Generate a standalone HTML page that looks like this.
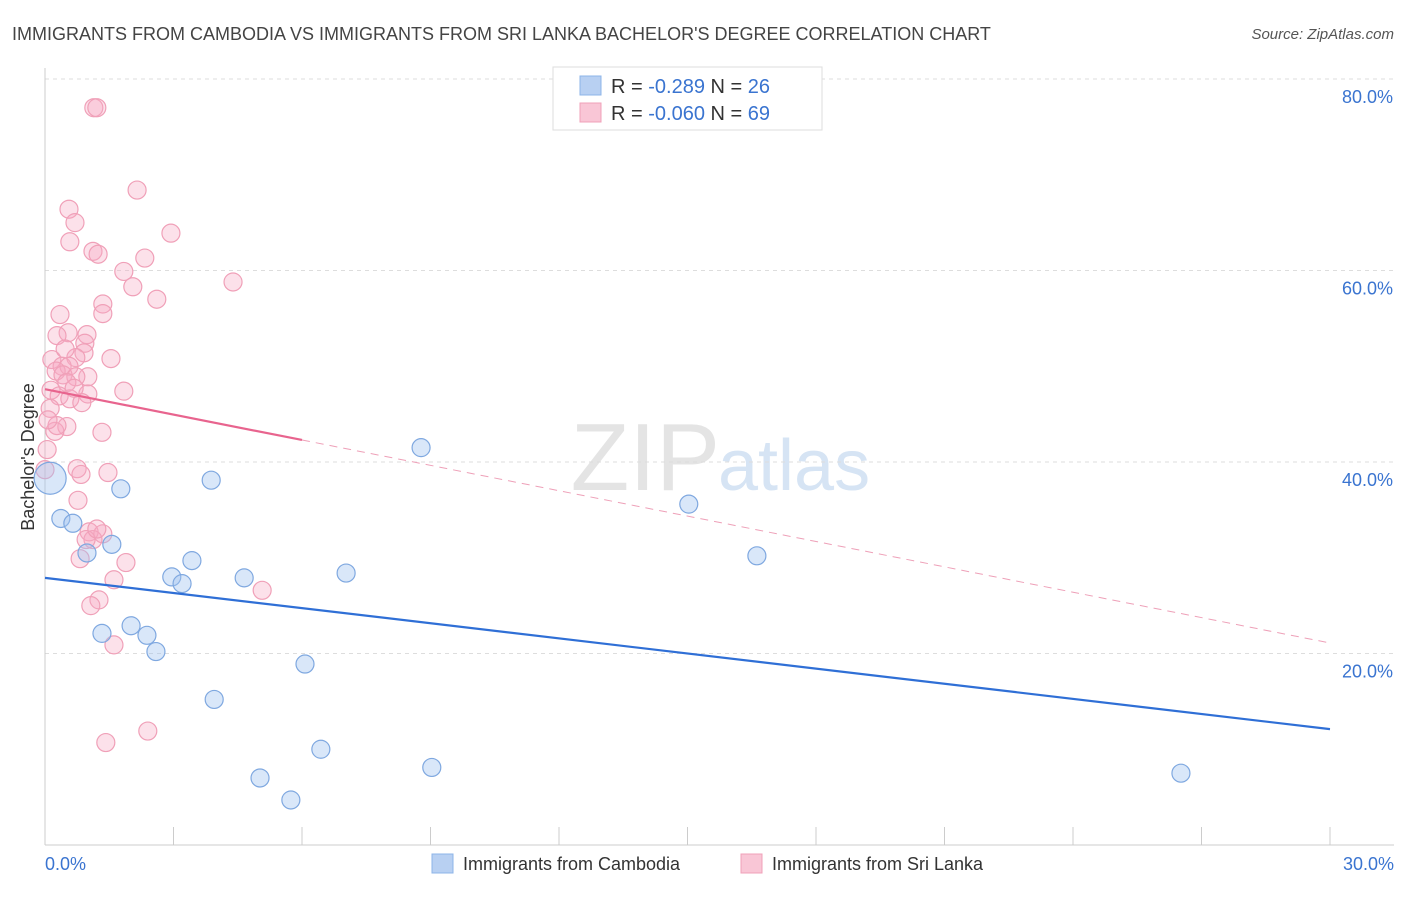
<!DOCTYPE html>
<html><head><meta charset="utf-8"><style>
body{margin:0;background:#fff;font-family:"Liberation Sans",sans-serif;}
svg text{font-family:"Liberation Sans",sans-serif;}
</style></head><body>
<svg id="chart" width="1406" height="892" xmlns="http://www.w3.org/2000/svg">
<text x="12" y="40" font-size="18" fill="#444">IMMIGRANTS FROM CAMBODIA VS IMMIGRANTS FROM SRI LANKA BACHELOR'S DEGREE CORRELATION CHART</text>
<text x="1394" y="39" font-size="15" fill="#555" text-anchor="end" font-style="italic">Source: ZipAtlas.com</text>
<text x="720" y="490" font-size="96" fill="#e4e4e4" text-anchor="end" font-family="Liberation Serif">ZIP</text>
<text x="718" y="490" font-size="72" fill="#d6e4f4">atlas</text>
<text transform="translate(34,457) rotate(-90)" font-size="18" fill="#333" text-anchor="middle">Bachelor's Degree</text>
<g id="grid"></g><g id="axes"></g><g id="marks"></g>
<g>
<rect x="553" y="67" width="269" height="63" fill="#fff" stroke="#ddd"/>
<rect x="580" y="76" width="21" height="19" fill="#b8d0f2" stroke="#8db4e8"/>
<rect x="580" y="103" width="21" height="19" fill="#f9c6d6" stroke="#f0a0b8"/>
<text x="611" y="93" font-size="20" fill="#333">R = <tspan fill="#3a74d0"> -0.289</tspan>    N = <tspan fill="#3a74d0">26</tspan></text>
<text x="611" y="120" font-size="20" fill="#333">R = <tspan fill="#3a74d0">-0.060</tspan>    N = <tspan fill="#3a74d0">69</tspan></text>
</g>
<g>
<rect x="432" y="854" width="21" height="19" fill="#b8d0f2" stroke="#8db4e8"/>
<text x="463" y="870" font-size="18" fill="#333">Immigrants from Cambodia</text>
<rect x="741" y="854" width="21" height="19" fill="#f9c6d6" stroke="#f0a0b8"/>
<text x="772" y="870" font-size="18" fill="#333">Immigrants from Sri Lanka</text>
</g>
</svg>
<script>
const xTicks=[0,3,6,9,12,15,18,21,24,27,30];
const yTicks=[20,40,60,80];
const blueX=[0.12,0.37,0.65,0.98,1.56,1.77,1.33,2.01,2.38,2.59,2.96,3.20,3.43,3.88,4.65,3.95,5.02,5.74,6.07,6.44,7.03,8.78,9.03,15.03,16.62,26.52];
const blueY=[38.3,34.1,33.6,30.5,31.4,37.2,22.1,22.9,21.9,20.2,28.0,27.3,29.7,38.1,27.9,15.2,7.0,4.7,18.9,10.0,28.4,41.5,8.1,35.6,30.2,7.5];
const pinkX=[1.14,1.21,2.15,0.56,0.70,0.58,2.94,1.12,1.24,2.33,1.84,4.39,2.05,2.61,1.35,1.35,0.35,0.54,0.28,0.98,0.93,0.91,1.54,0.16,0.72,0.40,0.56,0.26,0.42,1.00,0.72,0.51,0.14,1.84,1.00,0.33,0.58,0.86,0.12,0.51,0.23,1.33,0.05,0.75,1.47,0.84,0.77,1.03,1.35,1.12,0.96,0.82,1.89,1.61,5.07,1.26,1.07,1.61,1.42,2.40,0.0,0.28,0.68,0.07,1.21,0.47];
const pinkY=[77.0,77.0,68.4,66.4,65.0,63.0,63.9,62.0,61.7,61.3,59.9,58.8,58.3,57.0,56.5,55.5,55.4,53.5,53.2,53.3,52.4,51.4,50.8,50.7,50.9,50.0,50.0,49.5,49.1,48.9,48.9,48.3,47.5,47.4,47.1,46.9,46.6,46.2,45.6,43.7,43.2,43.1,41.3,39.3,38.9,38.7,36.0,32.7,32.5,31.9,31.9,29.9,29.5,27.7,26.6,25.6,25.0,20.9,10.7,11.9,39.2,43.8,47.7,44.4,33.0,51.8];
const blueTrend=[[0,27.9],[30,12.1]];
const pinkTrendSolid=[[0,47.6],[6,42.3]];
const pinkTrendDash=[[6,42.3],[30,21.1]];
const NS='http://www.w3.org/2000/svg';
const xs=v=>45+v/30*1285;
const ys=v=>845-v/20*191.5;
function mk(tag,attrs,parent){const e=document.createElementNS(NS,tag);for(const k in attrs)e.setAttribute(k,attrs[k]);parent.appendChild(e);return e;}
const grid=document.getElementById('grid'),axes=document.getElementById('axes'),marks=document.getElementById('marks');
yTicks.forEach(t=>{
 const l=mk('line',{x1:45,x2:1394,y1:ys(t),y2:ys(t),stroke:'#ddd','stroke-dasharray':'4,4'},grid);
 
 
 const tx=mk('text',{x:1393,y:ys(t)+24,'font-size':18,fill:'#3a74d0','text-anchor':'end'},axes);
 tx.textContent=t.toFixed(1)+'%';
 
 
});
const ya=mk('line',{x1:45,x2:45,y1:68,y2:845,stroke:'#ccc'},axes);


const xa=mk('line',{x1:45,x2:1394,y1:845,y2:845,stroke:'#ccc'},axes);


xTicks.forEach(t=>{
 const l=mk('line',{x1:xs(t),x2:xs(t),y1:827,y2:845,stroke:'#ccc'},axes);
 
 
});
[[0,'start'],[30,'end']].forEach(([t,a])=>{
 const tx=mk('text',{x:t===0?45:1394,y:870,'font-size':18,fill:'#3a74d0','text-anchor':a},axes);
 tx.textContent=t.toFixed(1)+'%';
 
 
});
pinkX.forEach((x,i)=>{
 const c=mk('circle',{cx:xs(x),cy:ys(pinkY[i]),r:9,fill:'rgba(245,170,195,0.35)',stroke:'#f0a0b8','stroke-width':1.2},marks);
 
 
});
blueX.forEach((x,i)=>{
 const c=mk('circle',{cx:xs(x),cy:ys(blueY[i]),r:i===0?16:9,fill:'rgba(160,195,240,0.4)',stroke:'#7fa8e0','stroke-width':1.2},marks);
 
 
});
function line(p,st,dash,name){
 const l=mk('line',{x1:xs(p[0][0]),y1:ys(p[0][1]),x2:xs(p[1][0]),y2:ys(p[1][1]),stroke:st,'stroke-width':dash?1:2.2},marks);
 if(dash)l.setAttribute('stroke-dasharray','8,6');
 
 
}
line(blueTrend,'#2f6fd6',false,'trend-cambodia');
line(pinkTrendSolid,'#e8648e',false,'trend-sri-lanka');
line(pinkTrendDash,'#eea0b8',true,'trend-sri-lanka-extension');
</script>
</body></html>
